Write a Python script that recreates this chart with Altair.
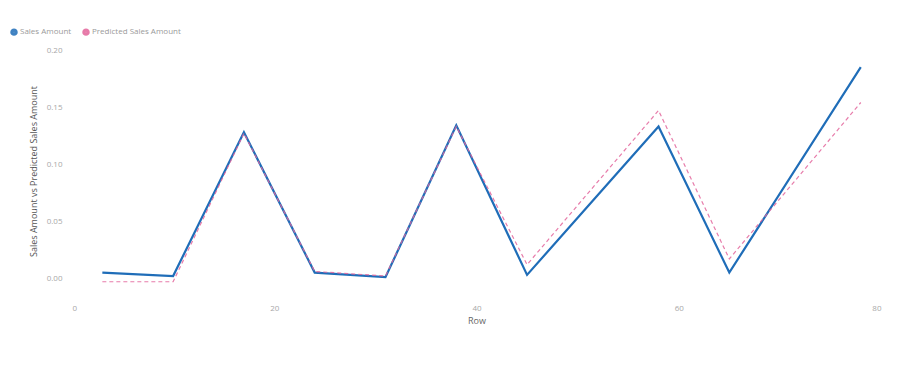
import altair as alt
import pandas as pd

rows = [3, 10, 17, 24, 31, 38, 45, 58, 65, 78]
sales = [0.005, 0.002, 0.128, 0.005, 0.001, 0.134, 0.003, 0.133, 0.005, 0.185]
predicted = [-0.003, -0.003, 0.127, 0.006, 0.002, 0.133, 0.012, 0.147, 0.017, 0.154]
series = ["Sales Amount", "Predicted Sales Amount"]
colors = ["#1f6db8", "#e3659b"]

df = pd.DataFrame(
    {"Row": rows * 2,
     "value": sales + predicted,
     "series": [series[0]] * len(rows) + [series[1]] * len(rows)}
)

font = "Open Sans"

x = alt.X("Row:Q", title="Row",
          scale=alt.Scale(domain=[0, 80], nice=False),
          axis=alt.Axis(values=[0, 20, 40, 60, 80], grid=False, domain=False, ticks=False,
                        labelFontSize=8, labelColor="#a8a8a8", labelFont=font,
                        titleFontSize=9, titleColor="#666666", titleFont=font,
                        titleFontWeight="normal", labelPadding=12, titlePadding=4))
y = alt.Y("value:Q", title="Sales Amount vs Predicted Sales Amount",
          scale=alt.Scale(domain=[-0.012, 0.2], nice=False, zero=False),
          axis=alt.Axis(values=[0, 0.05, 0.1, 0.15, 0.2], format=".2f", grid=False,
                        domain=False, ticks=False,
                        labelFontSize=8, labelColor="#a8a8a8", labelFont=font,
                        titleFontSize=9, titleColor="#555555", titleFont=font,
                        titleFontWeight="normal", labelPadding=10, titlePadding=8))
color = alt.Color("series:N", scale=alt.Scale(domain=series, range=colors),
                  legend=alt.Legend(title=None, orient="none", legendX=-62, legendY=-22,
                                    direction="horizontal", symbolType="circle",
                                    symbolSize=12, symbolStrokeWidth=4,
                                    labelFontSize=8, labelColor="#9a9a9a", labelFont=font,
                                    columnPadding=4, labelOffset=2))

sales_line = alt.Chart(df).transform_filter(
    alt.datum.series == series[0]
).mark_line(strokeWidth=2.2).encode(x=x, y=y, color=color)

pred_line = alt.Chart(df).transform_filter(
    alt.datum.series == series[1]
).mark_line(strokeWidth=1.2, strokeDash=[4, 3], opacity=0.85).encode(x=x, y=y, color=color)

chart = alt.layer(sales_line, pred_line).properties(
    width=809, height=242,
    autosize=alt.AutoSizeParams(type="none"),
    padding={"left": 64, "top": 42, "right": 11, "bottom": 75},
).configure(background="white").configure_view(stroke=None)

chart.save("out.html", embed_options={"renderer": "svg", "actions": False})
